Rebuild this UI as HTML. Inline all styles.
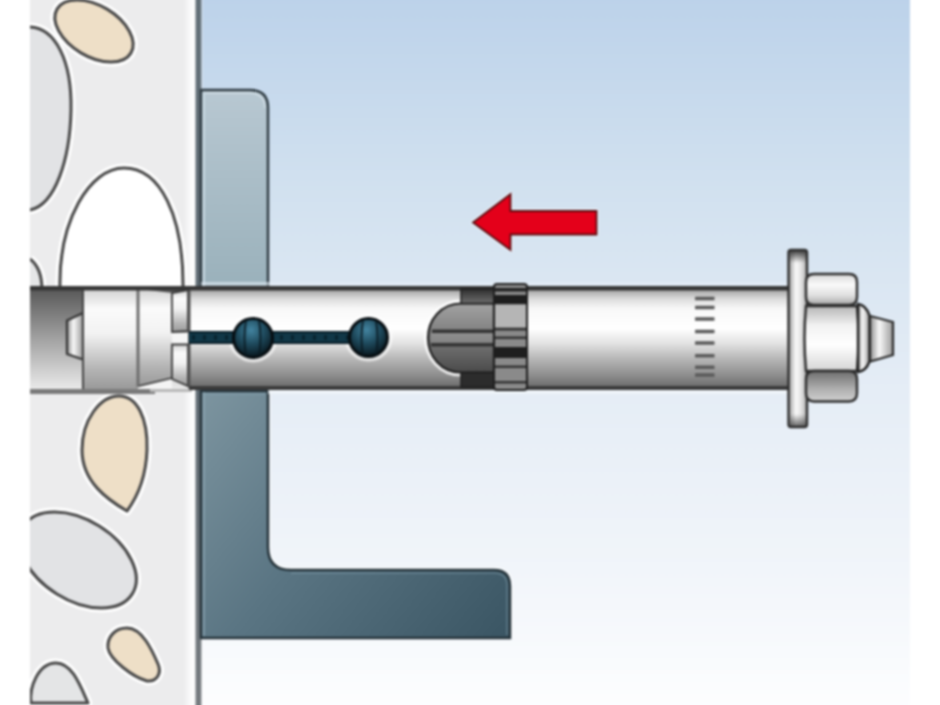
<!DOCTYPE html>
<html><head><meta charset="utf-8"><title>Anchor</title>
<style>
html,body{margin:0;padding:0;background:#fff;}
body{width:940px;height:705px;overflow:hidden;font-family:"Liberation Sans",sans-serif;}
svg{display:block;margin:-5px 0 0 -5px;filter:blur(0.9px);}
</style></head><body>
<svg width="950" height="715" viewBox="-5 -5 950 715">
<defs>
  <linearGradient id="bg" x1="0" y1="0" x2="0" y2="1">
    <stop offset="0" stop-color="#bcd2ea"/>
    <stop offset="0.25" stop-color="#d0e0ef"/>
    <stop offset="0.55" stop-color="#e5edf6"/>
    <stop offset="0.8" stop-color="#f1f5fa"/>
    <stop offset="1" stop-color="#fdfeff"/>
  </linearGradient>
  <linearGradient id="wallEdge" x1="0" y1="0" x2="1" y2="0">
    <stop offset="0" stop-color="#ededee"/>
    <stop offset="0.5" stop-color="#fafafa"/>
    <stop offset="1" stop-color="#ffffff"/>
  </linearGradient>
  <linearGradient id="darkEdge" x1="0" y1="0" x2="0" y2="1">
    <stop offset="0" stop-color="#637078"/>
    <stop offset="0.5" stop-color="#5e6a72"/>
    <stop offset="1" stop-color="#767b7f"/>
  </linearGradient>
  <linearGradient id="brUp" x1="0" y1="0" x2="0" y2="1">
    <stop offset="0" stop-color="#b8c8d2"/>
    <stop offset="1" stop-color="#9ab1bb"/>
  </linearGradient>
  <linearGradient id="brLow" gradientUnits="userSpaceOnUse" x1="200" y1="390" x2="510" y2="640">
    <stop offset="0" stop-color="#7d95a0"/>
    <stop offset="0.45" stop-color="#5a7583"/>
    <stop offset="1" stop-color="#3a5563"/>
  </linearGradient>
  <linearGradient id="hole" x1="0" y1="0" x2="0" y2="1">
    <stop offset="0" stop-color="#575757"/>
    <stop offset="0.5" stop-color="#a2a2a2"/>
    <stop offset="1" stop-color="#ebebeb"/>
  </linearGradient>
  <linearGradient id="metal" x1="0" y1="0" x2="0" y2="1">
    <stop offset="0" stop-color="#a0a0a0"/>
    <stop offset="0.1" stop-color="#dcdcdc"/>
    <stop offset="0.2" stop-color="#f8f8f8"/>
    <stop offset="0.4" stop-color="#ffffff"/>
    <stop offset="0.55" stop-color="#e2e2e2"/>
    <stop offset="0.7" stop-color="#b8b8b8"/>
    <stop offset="0.87" stop-color="#8e8e8e"/>
    <stop offset="0.97" stop-color="#727272"/>
    <stop offset="1" stop-color="#6a6a6a"/>
  </linearGradient>
  <linearGradient id="metal2" x1="0" y1="0" x2="0" y2="1">
    <stop offset="0" stop-color="#d2d2d2"/>
    <stop offset="0.2" stop-color="#fbfbfb"/>
    <stop offset="0.45" stop-color="#f2f2f2"/>
    <stop offset="0.8" stop-color="#b4b4b4"/>
    <stop offset="1" stop-color="#9a9a9a"/>
  </linearGradient>
  <linearGradient id="metalH" x1="0" y1="0" x2="1" y2="0">
    <stop offset="0" stop-color="#8e8e8e"/>
    <stop offset="0.4" stop-color="#f8f8f8"/>
    <stop offset="1" stop-color="#9a9a9a"/>
  </linearGradient>
  <linearGradient id="plastic" x1="0" y1="0" x2="0" y2="1">
    <stop offset="0" stop-color="#a2a2a2"/>
    <stop offset="0.5" stop-color="#7a7a7a"/>
    <stop offset="1" stop-color="#4a4a4a"/>
  </linearGradient>
  <linearGradient id="plasticBlk" x1="0" y1="0" x2="0" y2="1">
    <stop offset="0" stop-color="#2e2e2e"/>
    <stop offset="1" stop-color="#6e6e6e"/>
  </linearGradient>
  <radialGradient id="ball" cx="0.45" cy="0.3" r="0.7">
    <stop offset="0" stop-color="#4384a0"/>
    <stop offset="0.5" stop-color="#1f4b5e"/>
    <stop offset="1" stop-color="#08161d"/>
  </radialGradient>
  <linearGradient id="washerG" x1="0" y1="0" x2="1" y2="0">
    <stop offset="0" stop-color="#9a9a9a"/>
    <stop offset="0.4" stop-color="#fafafa"/>
    <stop offset="0.7" stop-color="#e0e0e0"/>
    <stop offset="1" stop-color="#a8a8a8"/>
  </linearGradient>
  <linearGradient id="washerTop" x1="0" y1="0" x2="0" y2="1">
    <stop offset="0" stop-color="#333" stop-opacity="0.9"/>
    <stop offset="1" stop-color="#333" stop-opacity="0"/>
  </linearGradient>
  <linearGradient id="washerBot" x1="0" y1="1" x2="0" y2="0">
    <stop offset="0" stop-color="#333" stop-opacity="0.7"/>
    <stop offset="1" stop-color="#333" stop-opacity="0"/>
  </linearGradient>
  <linearGradient id="nutTop" x1="0" y1="0" x2="0" y2="1">
    <stop offset="0" stop-color="#d8d8d8"/>
    <stop offset="0.35" stop-color="#fafafa"/>
    <stop offset="0.7" stop-color="#dedede"/>
    <stop offset="1" stop-color="#a5a5a5"/>
  </linearGradient>
  <linearGradient id="nutMid" x1="0" y1="0" x2="0" y2="1">
    <stop offset="0" stop-color="#b5b5b5"/>
    <stop offset="0.3" stop-color="#f2f2f2"/>
    <stop offset="0.6" stop-color="#ffffff"/>
    <stop offset="1" stop-color="#d5d5d5"/>
  </linearGradient>
  <linearGradient id="nutBot" x1="0" y1="0" x2="0" y2="1">
    <stop offset="0" stop-color="#6e6e6e"/>
    <stop offset="0.6" stop-color="#b0b0b0"/>
    <stop offset="1" stop-color="#d0d0d0"/>
  </linearGradient>
</defs>

<!-- background -->
<rect x="30" y="-5" width="880" height="715" fill="url(#bg)"/>

<!-- concrete wall -->
<rect x="30" y="-5" width="166" height="715" fill="#ececed"/>
<rect x="184" y="-5" width="12" height="715" fill="url(#wallEdge)"/>
<rect x="195.5" y="-5" width="6" height="715" fill="url(#darkEdge)"/>
<rect x="201" y="-5" width="2" height="715" fill="#ffffff" opacity="0.25"/>

<!-- pebbles -->
<g stroke-linejoin="round">
  <g fill="none" stroke="#ffffff" stroke-width="9" opacity="1">
    <ellipse cx="94" cy="31" rx="43" ry="25.5" transform="rotate(31 94 31)"/>
    <path d="M30,27 C55,28 72,60 71,110 C70,160 55,205 30,210"/>
    <path d="M60,290 C58,220 90,168 124,168 C160,168 184,215 183,290"/>
    <path d="M30,259 C38,265 42,275 42,290"/>
    <path d="M119,396 C137,396 148,418 147,450 C146,478 138,496 127,511 C108,500 82,482 82,450 C82,420 100,396 119,396 Z"/>
    <ellipse cx="78" cy="560" rx="64" ry="40" transform="rotate(32 78 560)"/>
    <path d="M127,628 C115,628 107,637 108,648 C110,660 133,677 147,681 C157,682 162,673 158,664 C152,650 142,628 127,628 Z"/>
    <path d="M31,703 C29,688 38,663 56,663 C72,663 80,685 88,703 Z"/>
  </g>
  <path d="M30,259 C38,265 42,275 42,290 L30,290 Z" fill="#e5e6e7"/>
  <g stroke="#484848" stroke-width="3">
    <ellipse cx="94" cy="31" rx="43" ry="25.5" transform="rotate(31 94 31)" fill="#eedfc7"/>
    <path d="M30,27 C55,28 72,60 71,110 C70,160 55,205 30,210" fill="#e2e3e5"/>
    <path d="M60,290 C58,220 90,168 124,168 C160,168 184,215 183,290" fill="#ffffff"/>
    <path d="M30,259 C38,265 42,275 42,290" fill="none"/>
    <path d="M119,396 C137,396 148,418 147,450 C146,478 138,496 127,511 C108,500 82,482 82,450 C82,420 100,396 119,396 Z" fill="#eedfc7"/>
    <ellipse cx="78" cy="560" rx="64" ry="40" transform="rotate(32 78 560)" fill="#e2e3e5"/>
    <path d="M127,628 C115,628 107,637 108,648 C110,660 133,677 147,681 C157,682 162,673 158,664 C152,650 142,628 127,628 Z" fill="#eedfc7"/>
    <path d="M31,703 C29,688 38,663 56,663 C72,663 80,685 88,703 Z" fill="#e4e5e6"/>
  </g>
</g>
<!-- cover pebble overflow beyond left edge -->
<rect x="-5" y="-5" width="35" height="715" fill="#fff"/>
<rect x="910" y="-5" width="35" height="715" fill="#fff"/>

<!-- bracket -->
<path d="M201,90 H250 Q268,90 268,108 V287 H201 Z" fill="url(#brUp)" stroke="#2f3b42" stroke-width="2.5"/>
<path d="M203,93 H249 Q265,93 265,108" fill="none" stroke="#dde8ee" stroke-width="1.5" opacity="0.7"/>
<rect x="202.5" y="93" width="2.5" height="194" fill="#c9d9e2" opacity="0.9"/>
<path d="M268,391 V547 Q268,570 291,570 H494 Q510,570 510,586 V638" fill="none" stroke="#ffffff" stroke-width="6" opacity="0.55"/>
<path d="M201,391 H268 V547 Q268,570 291,570 H494 Q510,570 510,586 V638 H201 Z" fill="url(#brLow)" stroke="#243239" stroke-width="2.5"/>
<path d="M205,394 H265 M291,573 H494 Q507,573 507,586 V635" fill="none" stroke="#8aa6b3" stroke-width="1.5" opacity="0.45"/>
<rect x="202.5" y="392" width="2.5" height="244" fill="#8fa9b5" opacity="0.6"/>

<!-- hole -->
<rect x="30" y="288" width="162" height="102" fill="url(#hole)"/>
<rect x="30" y="389" width="125" height="5" fill="#7a7a7a"/>
<rect x="150" y="389" width="42" height="3" fill="#b8b8b8"/>

<!-- cone end nub -->
<path d="M83,313 L67,320.5 L67,354 L83,359.5 Z" fill="url(#metalH)" stroke="#333" stroke-width="2.2" stroke-linejoin="round"/>
<!-- cone body -->
<rect x="83" y="289" width="55" height="100" fill="url(#metal2)"/>
<path d="M139,289 L172,293 L172,378 L139,386 Z" fill="url(#metal2)"/>
<path d="M139,386 L172,378 L172,389 L139,389 Z" fill="#f4f4f4"/>
<rect x="136.5" y="289" width="3" height="98" fill="#6e6e6e"/>
<path d="M83,289 V389" stroke="#444" stroke-width="2"/>
<path d="M139,386 L172,378" stroke="#333" stroke-width="1.8" fill="none"/>
<!-- fingers -->
<path d="M172,293 L188,290 L188,331 L172,332 Z" fill="url(#metal2)" stroke="#3a3a3a" stroke-width="1.8"/>
<rect x="172" y="333" width="16" height="11" fill="#f6f6f6"/>
<path d="M172,344.5 L188,344.5 L188,386 L172,379 Z" fill="url(#metal2)" stroke="#3a3a3a" stroke-width="1.8"/>

<!-- sleeve -->
<rect x="189" y="289" width="600" height="99" fill="url(#metal)"/>
<rect x="188" y="289" width="2.5" height="99" fill="#555"/>
<!-- slot -->
<g fill="none" stroke="#ffffff" stroke-width="5" opacity="0.6">
  <circle cx="253" cy="338" r="22"/>
  <circle cx="368.5" cy="337.5" r="21.5"/>
</g>

<rect x="189" y="331.5" width="191" height="12" fill="#113747"/>
<line x1="192" y1="337.5" x2="380" y2="337.5" stroke="#08202a" stroke-width="5" stroke-dasharray="3 8" opacity="0.8"/>
<rect x="189" y="331" width="191" height="2" fill="#0a1e28"/>
<rect x="189" y="342" width="191" height="2" fill="#0a1e28"/>
<!-- balls -->
<g stroke="#060d11" stroke-width="3">
  <circle cx="253" cy="338" r="19.5" fill="url(#ball)"/>
  <circle cx="368.5" cy="337.5" r="19" fill="url(#ball)"/>
</g>
<g stroke="#0a1a22" stroke-width="1.8" fill="none" opacity="0.9">
  <path d="M246,320 Q243,338 246,356"/><path d="M259,320 Q262,338 259,356"/>
  <path d="M363,320 Q360,338 363,356"/><path d="M376,321 Q379,338 376,355"/>
</g>

<!-- sleeve outlines -->
<rect x="30" y="286" width="759" height="4.5" fill="#363636"/>
<rect x="189" y="386" width="600" height="4" fill="#3a3a3a"/>
<rect x="201" y="282" width="588" height="3.5" fill="#e6eef6" opacity="0.6"/>
<rect x="268" y="390" width="521" height="4" fill="#f2f6fb" opacity="0.7"/>

<!-- plastic ring -->
<path d="M461,303.5 C441,303.5 428,320 428,338 C428,356 441,372.5 461,372.5" fill="none" stroke="#ffffff" stroke-width="8" opacity="0.8"/>
<path d="M461,303.5 H494 V372.5 H461 C441,372.5 428,356 428,338 C428,320 441,303.5 461,303.5 Z" fill="url(#plastic)" stroke="#1e1e1e" stroke-width="2.2"/>
<rect x="432" y="329.5" width="62" height="3.5" fill="#333"/>
<rect x="431" y="343" width="63" height="3.5" fill="#333"/>
<rect x="431" y="333" width="63" height="10" fill="#ffffff" opacity="0.12"/>
<rect x="461" y="289" width="33" height="14.5" fill="url(#plasticBlk)" stroke="#1e1e1e" stroke-width="1.5"/>
<rect x="461" y="372.5" width="33" height="14.5" fill="#2c2c2c" stroke="#1e1e1e" stroke-width="1.5"/>
<g>
  <rect x="494" y="284" width="33" height="106" rx="3" fill="#8a8a8a" stroke="#1e1e1e" stroke-width="2"/>
  <rect x="495" y="288" width="31" height="3.5" fill="#222"/>
  <rect x="495" y="295" width="31" height="9" fill="#1e1e1e"/>
  <rect x="495" y="305" width="31" height="22" fill="#b5b5b5"/>
  <rect x="495" y="328" width="31" height="2.5" fill="#333"/>
  <rect x="495" y="336.5" width="31" height="2.5" fill="#333"/>
  <rect x="495" y="347" width="31" height="11" fill="#1e1e1e"/>
  <rect x="495" y="365.5" width="31" height="2.5" fill="#333"/>
  <rect x="495" y="381" width="31" height="2.5" fill="#333"/>
</g>

<!-- marks -->
<g fill="#5a5a5a">
  <rect x="695" y="296.65" width="19.5" height="3.5" rx="0.5"/>
  <rect x="695" y="305.85" width="19.5" height="3.5" rx="0.5"/>
  <rect x="695" y="317.15" width="19.5" height="3.5" rx="0.5"/>
  <rect x="695" y="329.65" width="19.5" height="3.5" rx="0.5"/>
  <rect x="695" y="341.25" width="19.5" height="3.5" rx="0.5"/>
  <rect x="695" y="353.95" width="19.5" height="3.5" rx="0.5"/>
  <rect x="695" y="365.55" width="19.5" height="3.5" rx="0.5"/>
  <rect x="695" y="373.25" width="19.5" height="3.5" rx="0.5"/>
</g>

<!-- washer -->
<rect x="788.5" y="250" width="18.5" height="177" rx="2.5" fill="url(#washerG)" stroke="#2e2e2e" stroke-width="2.4"/>
<rect x="789.5" y="251" width="16.5" height="12" fill="url(#washerTop)"/>
<rect x="789.5" y="414" width="16.5" height="12" fill="url(#washerBot)"/>

<!-- nut -->
<path d="M814,274 H849 Q857,274 857,282 V297 Q857,305 849,305 H814 Q806,305 806,297 V282 Q806,274 814,274 Z" fill="url(#nutTop)" stroke="#2e2e2e" stroke-width="2.4"/>
<path d="M806,306 H857 Q860,338 857,371 H806 Q803,338 806,306 Z" fill="url(#nutMid)" stroke="#2e2e2e" stroke-width="2.4"/>
<path d="M814,371 H849 Q857,371 857,379 V393 Q857,401.5 849,401.5 H814 Q806,401.5 806,393 V379 Q806,371 814,371 Z" fill="url(#nutBot)" stroke="#2e2e2e" stroke-width="2.4"/>
<!-- bolt end -->
<path d="M858,304 Q866,305 869.5,315.5 L869.5,361.5 Q866,371 858,372 Z" fill="url(#metalH)" stroke="#222" stroke-width="2.4"/>
<path d="M870,316 L893,322 L893,355 L870,361.5 Z" fill="url(#metalH)" stroke="#2a2a2a" stroke-width="2.2"/>

<!-- arrow -->
<path d="M473,222.5 L510.5,194 L510.5,211 H596.5 V234.5 H510.5 V250 Z" fill="none" stroke="#ffffff" stroke-width="5" opacity="0.35" stroke-linejoin="round"/>
<path d="M473,222.5 L510.5,194 L510.5,211 H596.5 V234.5 H510.5 V250 Z" fill="#e4001a" stroke="#5a0c10" stroke-width="1.8" stroke-linejoin="miter"/>
</svg>
</body></html>
